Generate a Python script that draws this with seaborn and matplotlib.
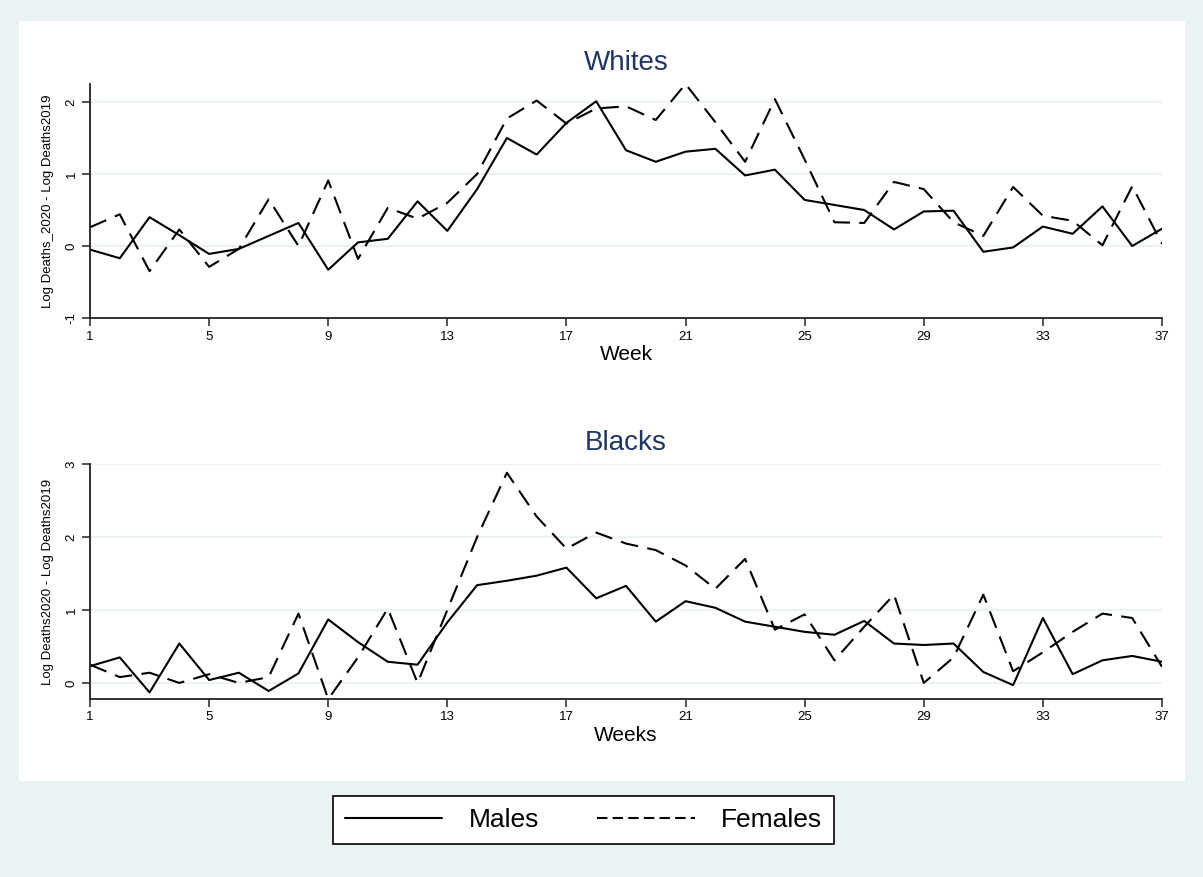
import numpy as np
import pandas as pd
import matplotlib
matplotlib.use("Agg")
import matplotlib.pyplot as plt
import seaborn as sns

# weekly differences log deaths 2020 - log deaths 2019
weeks = list(range(1, 38))

whites_males = [-0.05, -0.17, 0.40, 0.15, -0.11, -0.04, 0.14, 0.32, -0.33, 0.05,
                0.10, 0.62, 0.21, 0.79, 1.50, 1.27, 1.71, 2.01, 1.33, 1.17,
                1.31, 1.35, 0.98, 1.06, 0.64, 0.57, 0.50, 0.23, 0.48, 0.49,
                -0.08, -0.02, 0.27, 0.17, 0.55, 0.00, 0.24]
whites_females = [0.26, 0.44, -0.35, 0.23, -0.29, -0.04, 0.65, 0.00, 0.91, -0.18,
                  0.53, 0.38, 0.60, 1.00, 1.77, 2.02, 1.70, 1.91, 1.94, 1.75,
                  2.25, 1.72, 1.17, 2.04, 1.20, 0.33, 0.32, 0.89, 0.79, 0.33,
                  0.14, 0.82, 0.42, 0.35, 0.01, 0.83, 0.03]

blacks_males = [0.23, 0.35, -0.13, 0.54, 0.04, 0.14, -0.11, 0.13, 0.87, 0.56,
                0.29, 0.25, 0.83, 1.34, 1.40, 1.47, 1.58, 1.16, 1.33, 0.84,
                1.12, 1.03, 0.84, 0.77, 0.70, 0.66, 0.85, 0.54, 0.52, 0.54,
                0.15, -0.03, 0.89, 0.12, 0.31, 0.37, 0.29]
blacks_females = [0.25, 0.08, 0.14, 0.00, 0.12, 0.00, 0.08, 0.95, -0.22, 0.35,
                  1.02, 0.00, 1.00, 2.00, 2.88, 2.28, 1.84, 2.06, 1.91, 1.82,
                  1.61, 1.29, 1.70, 0.73, 0.94, 0.31, 0.77, 1.21, 0.00, 0.35,
                  1.21, 0.16, 0.42, 0.70, 0.95, 0.89, 0.22]

xticks = list(range(1, 38, 4))

BG = "#eaf2f3"
GRID = "#eaf2f3"
TITLE_COL = "#1f3563"
DASH = (8.5, 4.5)


def long_df(males, females):
    return pd.DataFrame({
        "week": weeks * 2,
        "value": males + females,
        "sex": ["Males"] * len(weeks) + ["Females"] * len(weeks),
    })


sns.set_theme(style="white")
plt.rcParams["font.family"] = ["Liberation Sans", "DejaVu Sans"]
plt.rcParams["axes.unicode_minus"] = False
for k in ["text.color", "axes.labelcolor", "xtick.color", "ytick.color"]:
    plt.rcParams[k] = "black"

fig = plt.figure(figsize=(12.03, 8.77), dpi=100)
fig.patch.set_facecolor(BG)
fig.add_artist(plt.Rectangle((19 / 1203, 1 - 781 / 877), (1185 - 19) / 1203, (781 - 21) / 877,
                             transform=fig.transFigure, facecolor="white", edgecolor="none", zorder=0))

panels = [
    ("Whites", whites_males, whites_females, "Log Deaths_2020 - Log Deaths2019", "Week",
     [-1, 0, 1, 2], (-1, 2.25), 84, 318),
    ("Blacks", blacks_males, blacks_females, "Log Deaths2020 - Log Deaths2019", "Weeks",
     [0, 1, 2, 3], (-0.22, 3.0), 464, 699),
]

for title, m, f, ylab, xlab, yticks, ylim, top_px, bot_px in panels:
    ax = fig.add_axes([90 / 1203, 1 - bot_px / 877, (1162 - 90) / 1203, (bot_px - top_px) / 877])
    ax.set_facecolor("white")
    df = long_df(m, f)
    sns.lineplot(data=df, x="week", y="value", style="sex", ax=ax, color="black",
                 dashes={"Males": "", "Females": DASH}, linewidth=1.5, legend=False)
    ax.set_xlim(1, 37)
    ax.set_ylim(*ylim)
    ax.set_xticks(xticks)
    ax.set_yticks(yticks)
    for y in yticks:
        ax.axhline(y, color=GRID, linewidth=1.6, zorder=0)
    for s in ["top", "right"]:
        ax.spines[s].set_visible(False)
    for s in ["left", "bottom"]:
        ax.spines[s].set_color("#222222")
        ax.spines[s].set_linewidth(1.3)
    ax.tick_params(axis="both", direction="out", length=6, width=1.1, color="#222222",
                   labelsize=9.5, pad=3, bottom=True, left=True, labelcolor="black")
    ax.tick_params(axis="y", labelrotation=90)
    for lab in ax.get_yticklabels():
        lab.set_va("center")
    ax.set_ylabel(ylab, fontsize=9.5, labelpad=8, color="black")
    ax.set_xlabel(xlab, fontsize=15, labelpad=2, color="black")
    ax.set_title(title, fontsize=20, color=TITLE_COL, pad=10)

handles = [
    plt.Line2D([], [], color="black", linewidth=1.5),
    plt.Line2D([], [], color="black", linewidth=1.5, dashes=(5, 2.5)),
]
leg = fig.legend(handles, ["Males", "Females"], loc="center", bbox_to_anchor=(583.5 / 1203, 1 - 820 / 877),
                 ncol=2, fontsize=19, frameon=True, fancybox=False, edgecolor="black",
                 facecolor="white", framealpha=1.0,
                 handlelength=3.7, columnspacing=2.2, handletextpad=1.0, borderpad=0.45)
leg.get_frame().set_linewidth(1.2)
for t in leg.get_texts():
    t.set_color("black")

fig.savefig("out.png", dpi=100, facecolor=BG)
